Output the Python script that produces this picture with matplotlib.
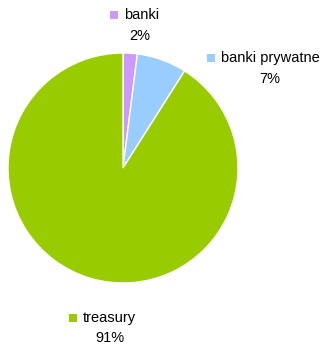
import matplotlib.pyplot as plt
from matplotlib.patches import Rectangle

plt.rcParams['font.family'] = ['Liberation Sans', 'DejaVu Sans']

# udział w portfelu
categories = ['banki', 'banki prywatne', 'treasury']
shares = [2, 7, 91]
colors = ['#CC99FF', '#99CCFF', '#99CC00']

W, H = 323, 345
fig = plt.figure(figsize=(W / 100, H / 100), dpi=100)
ax = fig.add_axes([0, 0, 1, 1])
ax.set_aspect('equal')
ax.axis('off')

ax.pie(shares, colors=colors, startangle=90, counterclock=False,
       center=(123, H - 168), radius=115,
       wedgeprops=dict(edgecolor='white', linewidth=1))
ax.set_xlim(0, W)
ax.set_ylim(0, H)

# etykiety: (x kwadratu, y nazwy, x środka procentu, y procentu)
label_pos = [(110, 15, 140, 36), (207, 58, 270, 79), (69, 318, 110, 338)]
for name, val, col, (sx, ny, px, py) in zip(categories, shares, colors, label_pos):
    ax.add_patch(Rectangle((sx, H - ny - 4), 8, 8, facecolor=col, edgecolor='none'))
    ax.text(sx + 14, H - ny, name, fontsize=10.5, va='center', ha='left')
    ax.text(px, H - py, f'{val}%', fontsize=10.5, va='center', ha='center')

fig.savefig('out.png', dpi=100)
